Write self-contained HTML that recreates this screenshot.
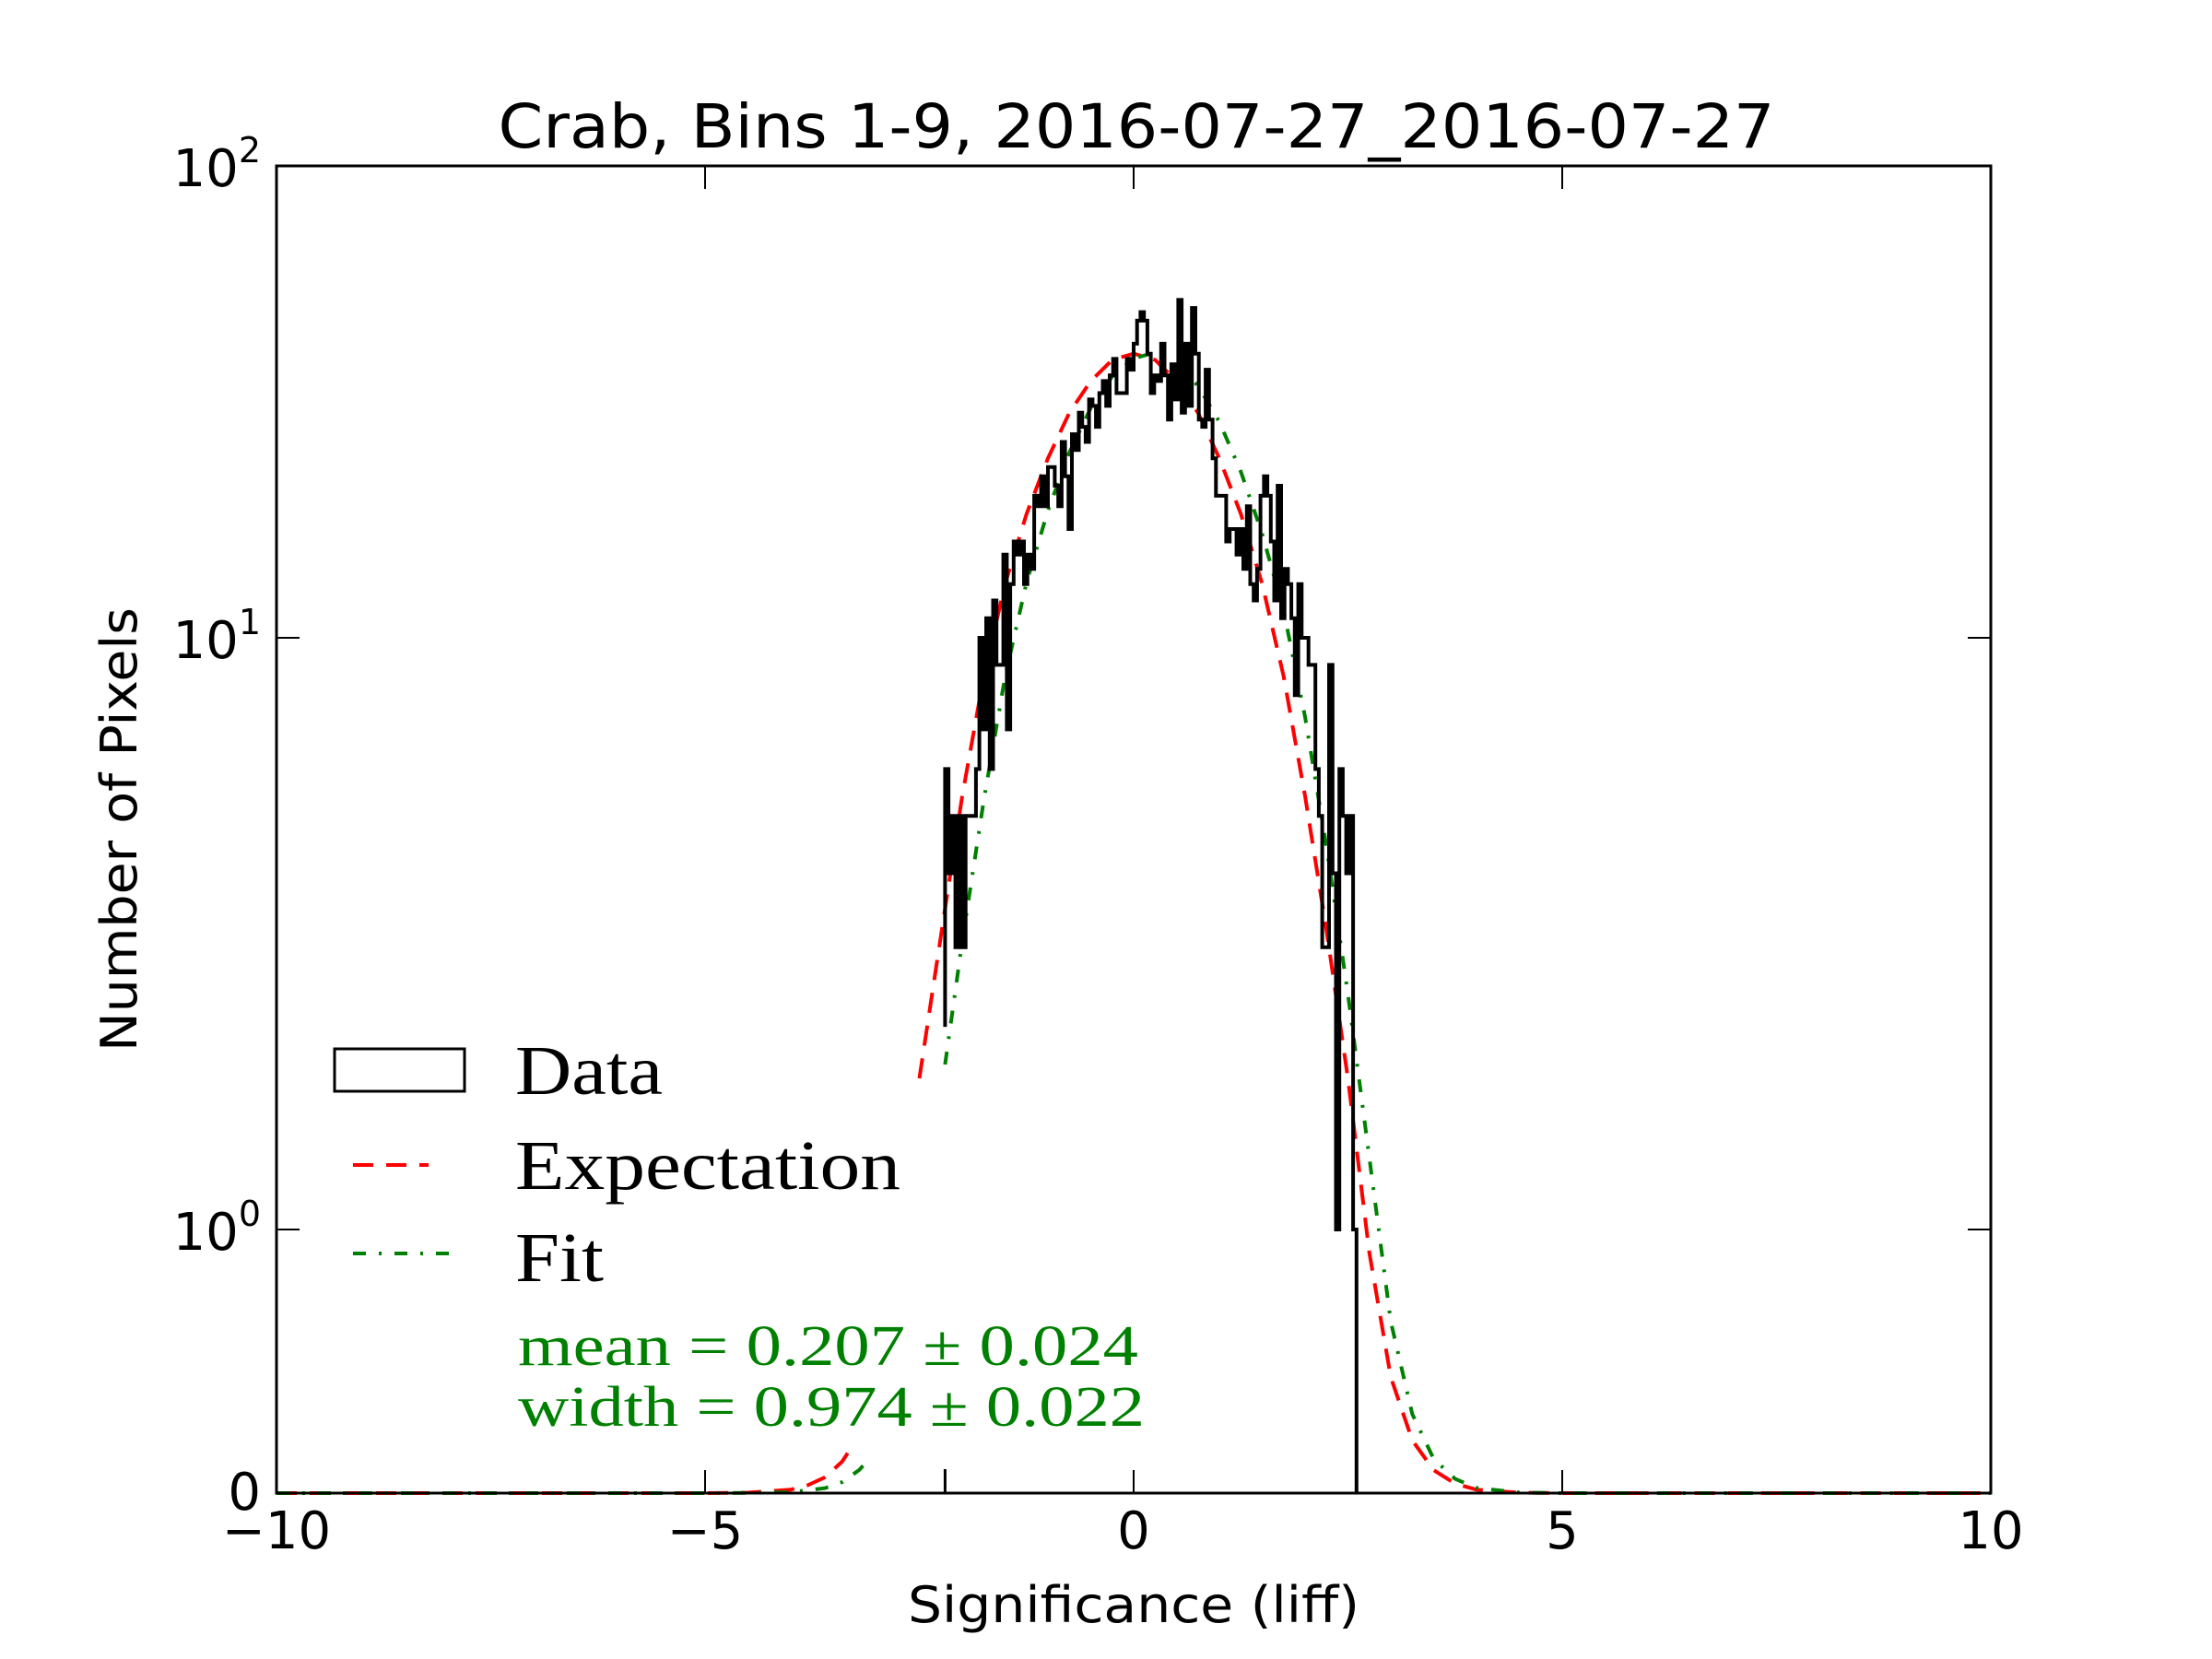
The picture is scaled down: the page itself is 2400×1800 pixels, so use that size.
<!DOCTYPE html>
<html><head><meta charset="utf-8">
<style>html,body{margin:0;padding:0;background:#fff;}svg{display:block;}</style>
</head><body>
<svg id="chart" width="2400" height="1800" viewBox="0 0 2400 1800" xmlns="http://www.w3.org/2000/svg">
<rect x="0" y="0" width="2400" height="1800" fill="#fff"/>
<g id="plot"></g>
<text x="1233" y="160" text-anchor="middle" font-family="DejaVu Sans, Liberation Sans, sans-serif" font-size="66" textLength="1385" lengthAdjust="spacingAndGlyphs">Crab, Bins 1-9, 2016-07-27_2016-07-27</text>
<text x="1230" y="1760" text-anchor="middle" font-family="DejaVu Sans, Liberation Sans, sans-serif" font-size="54" textLength="490" lengthAdjust="spacingAndGlyphs">Significance (liff)</text>
<text transform="translate(148,900) rotate(-90)" text-anchor="middle" font-family="DejaVu Sans, Liberation Sans, sans-serif" font-size="54" textLength="482" lengthAdjust="spacingAndGlyphs">Number of Pixels</text>
<g>
<rect x="363" y="1138" width="141" height="46" fill="none" stroke="#000" stroke-width="3"/>
<text x="559" y="1187" font-family="Liberation Serif, DejaVu Serif, serif" font-size="76" textLength="160" lengthAdjust="spacingAndGlyphs">Data</text>
<line x1="383" y1="1264" x2="465" y2="1264" stroke="#f00" stroke-width="4" stroke-dasharray="22,14"/>
<text x="559" y="1290" font-family="Liberation Serif, DejaVu Serif, serif" font-size="76" textLength="418" lengthAdjust="spacingAndGlyphs">Expectation</text>
<line x1="383" y1="1360" x2="490" y2="1360" stroke="#008000" stroke-width="4" stroke-dasharray="14,14,3,14"/>
<text x="559" y="1390" font-family="Liberation Serif, DejaVu Serif, serif" font-size="76" textLength="96" lengthAdjust="spacingAndGlyphs">Fit</text>
</g>
<text x="562" y="1481" fill="#008000" font-family="Liberation Serif, DejaVu Serif, serif" font-size="62" textLength="673" lengthAdjust="spacingAndGlyphs">mean = 0.207 ± 0.024</text>
<text x="562" y="1547" fill="#008000" font-family="Liberation Serif, DejaVu Serif, serif" font-size="62" textLength="680" lengthAdjust="spacingAndGlyphs">width = 0.974 ± 0.022</text>
</svg>
<script>
const xTicks = [-10, -5, 0, 5, 10];
const xTickLabels = ["\u221210", "\u22125", "0", "5", "10"];
const yTicks = [0, 1, 10, 100];
const binStart = -2.2;
const binWidth = 0.04;
const counts = [6,4,5,3,5,3,5,5,5,6,10,7,11,6,12,9,9,15,7,13,
16,15,16,13,15,14,20,19,22,19,23,23,21,19,26,22,17,27,25,30,
28,26,32,31,28,33,35,31,36,39,33,33,33,39,37,42,47,49,47,40,
33,36,35,42,36,29,38,32,52,30,42,31,50,40,29,28,37,29,24,20,
20,20,16,17,17,15,17,14,19,13,12,14,20,22,20,16,12,21,11,14,
13,11,8,13,10,10,9,9,6,5,3,3,9,4,1,6,5,4,5,1];
const expX1 = [-10,-8,-6,-5,-4.5,-4,-3.8,-3.6,-3.4,-3.3];
const expY1 = [0,0,0,0.00015,0.0016,0.013,0.03,0.06,0.12,0.17];
const expX2 = [-2.5,-2.3,-2,-1.75,-1.5,-1.25,-1,-0.75,-0.5,-0.25,0,0.25,0.5,0.75,1,1.25,1.5,1.75,2,2.25,2.5,2.75,3,3.25,3.5,3.75,4,4.5,5,7,10];
const expY2 = [1.8,2.8,5.4,8.6,13,18.3,24,30,35,38.8,40,38.8,35,30,24,18.3,13,8.6,5.4,3.2,1.8,0.91,0.44,0.2,0.087,0.036,0.013,0.0016,0,0,0];
const fitX1 = [-10,-8,-6,-5,-4.5,-4,-3.6,-3.4,-3.2,-3.1];
const fitY1 = [0,0,0,0.0001,0.0008,0.0035,0.019,0.042,0.088,0.125];
const fitX2 = [-2.2,-2,-1.75,-1.5,-1.25,-1,-0.75,-0.5,-0.25,0,0.207,0.5,0.75,1,1.25,1.5,1.75,2,2.25,2.5,2.75,3,3.25,3.5,3.75,4,4.5,5,7,10];
const fitY2 = [1.9,3.07,5.3,8.6,13.1,18.6,24.7,30.7,35.8,39.1,40,38.2,34.2,28.7,22.5,16.6,11.4,7.35,4.43,2.5,1.32,0.65,0.3,0.13,0.054,0.02,0.002,0,0,0];

const L=300,R=2160,T=180,B=1620;
function X(v){return L+(v+10)/20*(R-L);}
function Y(v){
  if(v<=0) return B;
  if(v<1) return B-(B-1334)*v;
  if(v<10) return 1334-(1334-692)*Math.log10(v);
  return 692-(692-180)*(Math.log10(v)-1);
}
const NS='http://www.w3.org/2000/svg';
const plot=document.getElementById('plot');
function mk(tag,attrs){const e=document.createElementNS(NS,tag);for(const k in attrs)e.setAttribute(k,attrs[k]);plot.appendChild(e);return e;}

function curve(xs,ys,color,dash,name){
  let d='';xs.forEach((x,i)=>{d+=(i?'L':'M')+X(x).toFixed(1)+','+Y(ys[i]).toFixed(1);});
  const p=mk('path',{d:d,fill:'none',stroke:color,'stroke-width':4,'stroke-dasharray':dash});
  
  
}
curve(expX1,expY1,'#f00','22,14','expectation-curve-left');
curve(expX2,expY2,'#f00','22,14','expectation-curve');
curve(fitX1,fitY1,'#008000','14,14,3,14','fit-curve-left');
curve(fitX2,fitY2,'#008000','14,14,3,14','fit-curve');

let d='M'+X(binStart)+','+Y(2.2);
counts.forEach((c,i)=>{const x0=binStart+i*binWidth,x1=x0+binWidth;d+='L'+X(x0).toFixed(1)+','+Y(c).toFixed(1)+'L'+X(x1).toFixed(1)+','+Y(c).toFixed(1);});
d+='L'+X(binStart+counts.length*binWidth).toFixed(1)+','+B;
const h=mk('path',{d:d,fill:'none',stroke:'#000','stroke-width':4});


const he=mk('line',{x1:X(binStart),y1:B,x2:X(binStart),y2:B-26,stroke:'#000','stroke-width':3});



const fr=mk('rect',{x:L,y:T,width:R-L,height:B-T,fill:'none',stroke:'#000','stroke-width':3});



xTicks.forEach((v,i)=>{
  const x=X(v);
  const t1=mk('line',{x1:x,y1:B,x2:x,y2:B-25,stroke:'#000','stroke-width':2});
  
  
  const t2=mk('line',{x1:x,y1:T,x2:x,y2:T+25,stroke:'#000','stroke-width':2});
  
  
  const tx=mk('text',{x:x,y:1680,'text-anchor':'middle','font-family':'DejaVu Sans, Liberation Sans, sans-serif','font-size':56});
  tx.textContent=xTickLabels[i];
  
  
});
yTicks.forEach((v)=>{
  const y=Y(v);
  const t1=mk('line',{x1:L,y1:y,x2:L+25,y2:y,stroke:'#000','stroke-width':2});
  
  
  const t2=mk('line',{x1:R,y1:y,x2:R-25,y2:y,stroke:'#000','stroke-width':2});
  
  
  const tx=mk('text',{x:283,y:y+18,'text-anchor':'end','font-family':'DejaVu Sans, Liberation Sans, sans-serif','font-size':56});
  if(v===0){tx.textContent='0';}
  else{
    tx.textContent='10';
    const s=document.createElementNS(NS,'tspan');
    s.setAttribute('font-size','38');s.setAttribute('dy','-26');
    s.textContent=String(Math.round(Math.log10(v)));
    tx.appendChild(s);
    tx.setAttribute('y',y+22);
  }
  
  
});
</script>
</body></html>
